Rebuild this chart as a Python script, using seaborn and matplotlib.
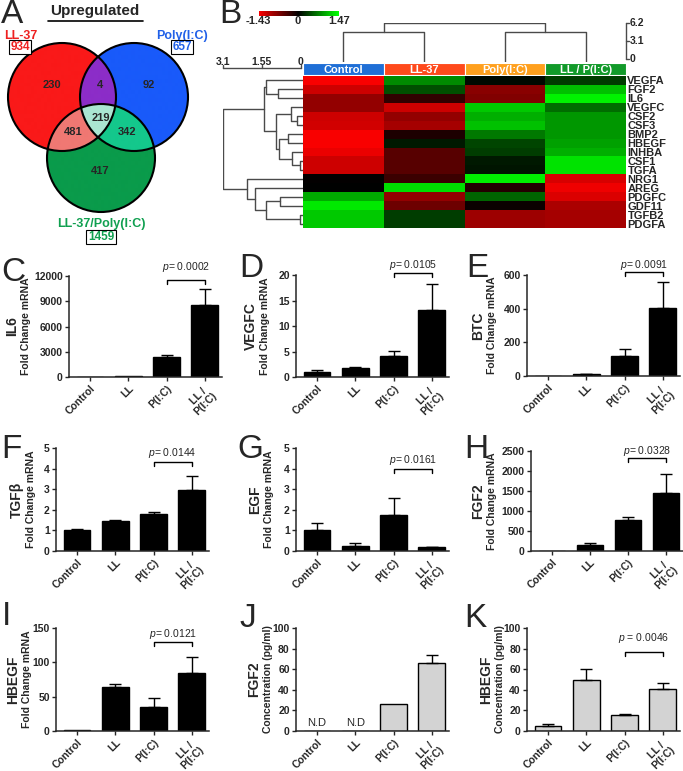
import numpy as np
import pandas as pd
import matplotlib
matplotlib.use('Agg')
import matplotlib.pyplot as plt
import seaborn as sns
from matplotlib.colors import LinearSegmentedColormap, to_rgba
from matplotlib.patches import Circle
from matplotlib import transforms

# ---------------- data ----------------
venn_sets = ['LL-37', 'Poly(I:C)', 'LL-37/Poly(I:C)']
venn_totals = [934, 657, 1459]
venn_regions = ['100', '010', '001', '110', '101', '011', '111']
venn_counts = [230, 92, 417, 4, 481, 342, 219]

genes = ['VEGFA', 'FGF2', 'IL6', 'VEGFC', 'CSF2', 'CSF3', 'BMP2', 'HBEGF', 'INHBA',
         'CSF1', 'TGFA', 'NRG1', 'AREG', 'PDGFC', 'GDF11', 'TGFB2', 'PDGFA']
conditions = ['Control', 'LL-37', 'Poly(I:C)', 'LL / P(I:C)']
z_control = [-1.43, -1.18, -0.84, -0.84, -1.18, -1.20, -1.43, -1.43, -1.35, -1.18, -1.18,
             -0.02, 0.00, 0.98, 1.33, 1.15, 1.15]
z_ll37 = [0.80, 0.46, -0.28, -1.18, -0.84, -0.95, -0.17, 0.14, -0.50, -0.50, -0.50,
          -0.34, 1.27, -0.84, -0.62, 0.35, 0.35]
z_poly = [0.05, -0.78, -0.73, 1.15, 1.00, 1.10, 0.69, 0.40, 0.35, 0.14, 0.12,
          1.36, -0.20, 0.58, -0.06, -0.90, -0.90]
z_combo = [0.35, 1.10, 1.38, 0.63, 0.86, 0.86, 0.86, 0.92, 1.00, 1.30, 1.30,
           -1.23, -1.37, -1.26, -0.98, -0.95, -0.95]
# linkage: (child a, child b, height); new nodes numbered after the leaves
row_merges = [(9, 10, 0.03), (15, 16, 0.03), (4, 5, 0.13), (8, 17, 0.34), (3, 19, 0.40),
              (6, 7, 0.52), (13, 14, 0.81), (1, 2, 0.89), (22, 20, 0.85), (21, 25, 0.98),
              (0, 24, 1.38), (27, 26, 1.48), (23, 18, 1.37), (12, 29, 1.84), (11, 30, 2.15),
              (28, 31, 3.10)]
col_merges = [(0, 1, 4.65), (2, 3, 4.65), (4, 5, 6.2)]

groups = ['Control', 'LL', 'P(I:C)', 'LL /\nP(I:C)']
il6_mean = [1, 60, 2400, 8600];          il6_sem = [0, 0, 250, 1800]
vegfc_mean = [1.0, 1.8, 4.1, 13.1];      vegfc_sem = [0.3, 0.1, 1.0, 5.1]
btc_mean = [2, 10, 120, 405];            btc_sem = [0, 2, 42, 153]
tgfb_mean = [1.02, 1.45, 1.78, 2.97];    tgfb_sem = [0.04, 0.07, 0.10, 0.65]
egf_mean = [1.02, 0.24, 1.75, 0.17];     egf_sem = [0.32, 0.17, 0.83, 0.03]
fgf2_mean = [2, 140, 780, 1450];         fgf2_sem = [0, 55, 70, 480]
hbegf_mean = [1.5, 64, 35, 84];          hbegf_sem = [0, 5, 13, 24]
fgf2_conc = [0, 0, 26, 66];              fgf2_conc_sem = [0, 0, 0, 8]
hbegf_conc = [5, 50, 15.5, 41];          hbegf_conc_sem = [2, 10, 0.6, 5.5]
p_values = ['0.0002', '0.0105', '0.0091', '0.0144', '0.0161', '0.0328', '0.0121', None, '0.0046']

# ---------------- style ----------------
W, H = 683, 771
sns.set_style('ticks')
plt.rcParams['font.family'] = ['Liberation Sans', 'DejaVu Sans']
plt.rcParams['mathtext.fontset'] = 'custom'
plt.rcParams['mathtext.it'] = 'Liberation Sans:italic'
plt.rcParams['mathtext.rm'] = 'Liberation Sans'

fig = plt.figure(figsize=(W / 100, H / 100), dpi=100)


def box(x0, y0, x1, y1):
    return fig.add_axes([x0 / W, 1 - y1 / H, (x1 - x0) / W, (y1 - y0) / H])


def ftext(x, y, s, **kw):
    return fig.text(x / W, 1 - y / H, s, **kw)


# ---------------- A: Venn ----------------
axv = box(0, 0, 215, 250)
axv.set_xlim(0, 215)
axv.set_ylim(250, 0)
axv.axis('off')
centers = [(62, 97), (134, 97), (101, 158)]
rad = 54
region_colors = ['#fa1919', '#195afa', '#0a9b4b', '#8c2dc8', '#f07873', '#14c88c', '#aae6d2']
xx, yy = np.meshgrid(np.linspace(0, 215, 861), np.linspace(0, 250, 1001))
inside = [((xx - cx) ** 2 + (yy - cy) ** 2 <= rad ** 2) for cx, cy in centers]
img = np.zeros(xx.shape + (4,))
for code, col in zip(venn_regions, region_colors):
    m = np.ones(xx.shape, bool)
    for k, ch in enumerate(code):
        m &= inside[k] if ch == '1' else ~inside[k]
    img[m] = to_rgba(col)
axv.imshow(img, extent=(0, 215, 250, 0), origin='upper', interpolation='bilinear', aspect='auto')
for cx, cy in centers:
    axv.add_patch(Circle((cx, cy), rad, fill=False, ec='black', lw=1.5))
label_pos = {'100': (52, 85), '010': (149, 85), '001': (100, 171), '110': (100, 85),
             '101': (73, 132), '011': (127, 132), '111': (101, 118)}
for code, n in zip(venn_regions, venn_counts):
    axv.text(*label_pos[code], str(n), ha='center', va='center', fontsize=8, fontweight='bold')
set_colors = ['#ee2020', '#2060e8', '#10a050']
set_name_pos = [(21, 36), (182, 36), (101, 224)]
set_tot_pos = [(20, 47), (182, 47), (101, 237)]
for name, tot, c, p1, p2 in zip(venn_sets, venn_totals, set_colors, set_name_pos, set_tot_pos):
    axv.text(*p1, name, color=c, ha='center', va='center', fontsize=9, fontweight='bold')
    axv.text(*p2, str(tot), color=c, ha='center', va='center', fontsize=8.5, fontweight='bold',
             bbox=dict(boxstyle='square,pad=0.12', fc='white', ec='black', lw=0.8))
axv.text(95, 11, 'Upregulated', ha='center', va='center', fontsize=11, fontweight='bold')
axv.plot([48, 143], [21, 21], color='black', lw=1.2)

# ---------------- B: heatmap ----------------
cmap = LinearSegmentedColormap.from_list('rbg', ['#ff0000', '#000000', '#00ff00'])
df = pd.DataFrame({c: v for c, v in zip(conditions, [z_control, z_ll37, z_poly, z_combo])}, index=genes)
axh = box(303, 76, 626, 228)
sns.heatmap(df, ax=axh, cmap=cmap, vmin=-1.43, vmax=1.47, center=0, cbar=False,
            xticklabels=False, yticklabels=genes)
axh.set_xlabel('')
axh.set_ylabel('')
axh.yaxis.tick_right()
axh.tick_params(axis='y', length=0, pad=1, labelsize=8, labelrotation=0)
for t in axh.get_yticklabels():
    t.set_fontweight('bold')

axcb = box(259, 11, 339, 16)
cb = fig.colorbar(axh.collections[0], cax=axcb, orientation='horizontal')
cb.set_ticks([])
cb.outline.set_visible(False)
for x, s in ((258, '-1.43'), (298, '0'), (339, '1.47')):
    ftext(x, 21, s, ha='center', va='center', fontsize=8, fontweight='bold')

header_colors = ['#1f6fd6', '#ff4a1c', '#ffa01e', '#129a2a']
axhd = box(303, 63, 626, 75)
axhd.bar(np.arange(4) + 0.5, np.ones(4), width=1, color=header_colors, edgecolor='white', linewidth=0.8)
axhd.set_xlim(0, 4)
axhd.set_ylim(0, 1)
axhd.axis('off')
for i, c in enumerate(conditions):
    axhd.text(i + 0.5, 0.45, c, color='white', ha='center', va='center', fontsize=8, fontweight='bold')


def dendro_segments(n_leaves, merges, leaf_h):
    pos = {i: i + 0.5 for i in range(n_leaves)}
    hgt = {i: leaf_h for i in range(n_leaves)}
    segs = []
    for k, (a, b, h) in enumerate(merges):
        segs.append(([hgt[a], h, h, hgt[b]], [pos[a], pos[a], pos[b], pos[b]]))
        pos[n_leaves + k] = (pos[a] + pos[b]) / 2
        hgt[n_leaves + k] = h
    return segs


dcol = '#4a4a4a'
axd = box(223, 76, 303, 228)
axd.set_xlim(3.1, -0.1)
axd.set_ylim(17, 0)
axd.axis('off')
for hs, ps in dendro_segments(len(genes), row_merges, -0.08):
    axd.plot(hs, ps, color=dcol, lw=1)
axd.plot([3.1, 0], [-0.9, -0.9], color=dcol, lw=1, clip_on=False)
for v, s in ((3.1, '3.1'), (1.55, '1.55'), (0, '0')):
    axd.plot([v, v], [-0.9, -1.25], color=dcol, lw=1, clip_on=False)
    axd.text(v, -1.6, s, ha='center', va='center', fontsize=7.5, fontweight='bold')

axt = box(303, 23, 626, 62)
axt.set_xlim(0, 4)
axt.set_ylim(-0.55, 6.2)
axt.axis('off')
for hs, ps in dendro_segments(len(conditions), col_merges, -0.55):
    axt.plot(ps, hs, color=dcol, lw=1)
axt.plot([4, 4], [0, 6.2], color=dcol, lw=1, clip_on=False)
for v, s in ((0, '0'), (3.1, '3.1'), (6.2, '6.2')):
    axt.plot([4, 4.04], [v, v], color=dcol, lw=1, clip_on=False)
    axt.text(4.05, v, s, ha='left', va='center', fontsize=7.5, fontweight='bold')


# ---------------- C-K: bar charts ----------------
def bar_panel(rect, means, sems, gene, sub, ticks, color, ptxt, pb, pt, sdx, nd=False):
    ax = box(*rect)
    d = pd.DataFrame({'group': groups, 'value': means})
    sns.barplot(data=d, x='group', y='value', order=groups, ax=ax, color=color, saturation=1,
                width=0.7, edgecolor='black', linewidth=1.0, errorbar=None)
    means = np.asarray(means, float)
    sems = np.asarray(sems, float)
    m = sems > 0
    idx = np.arange(4)[m]
    ax.errorbar(idx, means[m], yerr=[np.zeros(m.sum()), sems[m]], fmt='none', ecolor='black',
                elinewidth=1.0, capsize=4, capthick=1.0, zorder=3, clip_on=False)
    ax.set_xlim(-0.55, 3.45)
    ax.set_ylim(0, ticks[-1])
    ax.set_yticks(ticks)
    ax.set_yticklabels([f'{t:g}' for t in ticks])
    sns.despine(ax=ax)
    for sp in ('left', 'bottom'):
        ax.spines[sp].set_linewidth(1.1)
    ax.set_xlabel('')
    ax.set_ylabel('')
    ax.set_xticks(range(4))
    ax.set_xticklabels(groups, rotation=45, ha='right', rotation_mode='anchor', ma='center',
                       linespacing=1.0)
    ax.tick_params(length=3, width=1, labelsize=7.5, pad=1.5)
    for t in ax.get_xticklabels() + ax.get_yticklabels():
        t.set_fontweight('bold')
    for dx, s, fs in ((sdx - 14, gene, 10), (sdx, sub, 7.5)):
        tr = transforms.offset_copy(ax.transAxes, fig=fig, x=dx, y=0, units='dots')
        ax.text(0, 0.5, s, transform=tr, rotation=90, ha='center', va='center',
                fontsize=fs, fontweight='bold')
    tb = transforms.blended_transform_factory(ax.transData, ax.transAxes)
    if ptxt:
        ax.plot([2, 2, 3, 3], [pb - 0.04, pb, pb, pb - 0.04], transform=tb, color='black',
                lw=1, clip_on=False)
        ax.text(2.5, pt, ptxt, transform=tb, ha='center', va='center', fontsize=7.5)
    if nd:
        for i in range(4):
            if means[i] == 0:
                ax.text(i, 0.08, 'N.D', transform=tb, ha='center', va='center', fontsize=8)
    return ax


fc = 'Fold Change mRNA'
cc = 'Concentration (pg/ml)'
gray = '#d3d3d3'
bar_panel((69, 276, 222, 377), il6_mean, il6_sem, 'IL6', fc, [0, 3000, 6000, 9000, 12000], 'black',
          f'$p$= {p_values[0]}', 0.96, 1.09, -43)
bar_panel((296, 275, 449, 377), vegfc_mean, vegfc_sem, 'VEGFC', fc, [0, 5, 10, 15, 20], 'black',
          f'$p$= {p_values[1]}', 1.02, 1.10, -31)
bar_panel((527, 275, 680, 376), btc_mean, btc_sem, 'BTC', fc, [0, 200, 400, 600], 'black',
          f'$p$= {p_values[2]}', 1.03, 1.10, -35)
bar_panel((56, 448, 209, 551), tgfb_mean, tgfb_sem, 'TGFβ', fc, [0, 1, 2, 3, 4, 5], 'black',
          f'$p$= {p_values[3]}', 0.864, 0.95, -25)
bar_panel((296, 448, 449, 551), egf_mean, egf_sem, 'EGF', fc, [0, 1, 2, 3, 4, 5], 'black',
          f'$p$= {p_values[4]}', 0.80, 0.88, -27)
bar_panel((531, 451, 683, 551), fgf2_mean, fgf2_sem, 'FGF2', fc, [0, 500, 1000, 1500, 2000, 2500], 'black',
          f'$p$= {p_values[5]}', 0.93, 1.0, -39)
bar_panel((56, 628, 209, 731), hbegf_mean, hbegf_sem, 'HBEGF', fc, [0, 50, 100, 150], 'black',
          f'$p$= {p_values[6]}', 0.864, 0.94, -29)
bar_panel((296, 628, 449, 731), fgf2_conc, fgf2_conc_sem, 'FGF2', cc, [0, 20, 40, 60, 80, 100], gray,
          None, 0, 0, -28, nd=True)
bar_panel((527, 628, 680, 731), hbegf_conc, hbegf_conc_sem, 'HBEGF', cc, [0, 20, 40, 60, 80, 100], gray,
          f'$p$ = {p_values[8]}', 0.767, 0.90, -27)

# ---------------- panel letters ----------------
for s, x, y in (('A', 1, 23), ('B', 219, 23), ('C', 1, 281), ('D', 239, 277), ('E', 466, 277),
                ('F', 1, 458), ('G', 237, 458), ('H', 464, 458), ('I', 2, 625), ('J', 239, 627),
                ('K', 464, 627)):
    ftext(x, y, s, fontsize=24, ha='left', va='baseline')

fig.savefig('out.png', dpi=100)
